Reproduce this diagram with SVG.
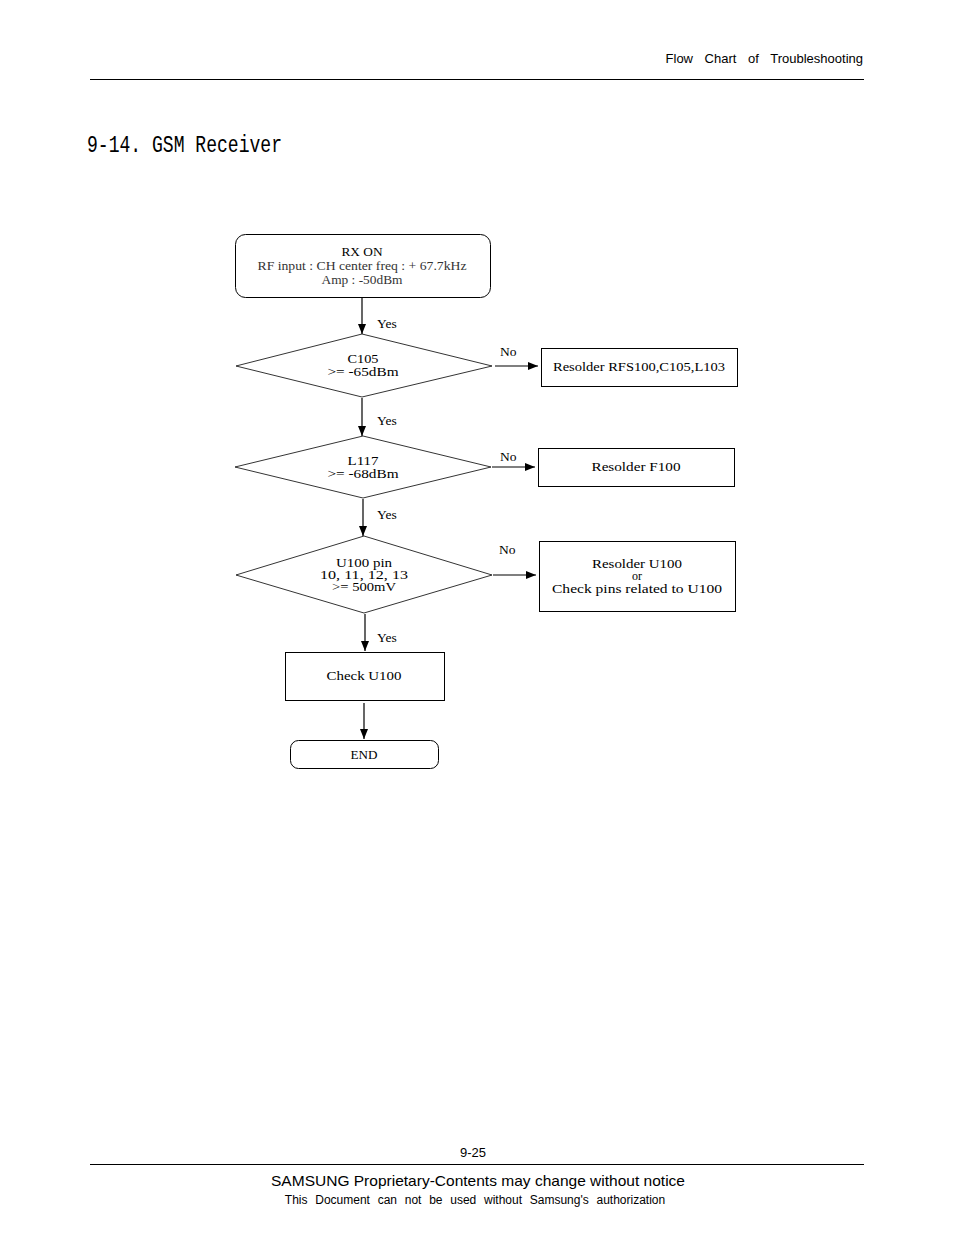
<svg xmlns="http://www.w3.org/2000/svg" width="954" height="1235" viewBox="0 0 954 1235">
<defs>
<marker id="ah" viewBox="0 0 10 8" refX="10" refY="4" markerWidth="10" markerHeight="8" markerUnits="userSpaceOnUse" orient="auto">
<path d="M0,0 L10,4 L0,8 Z" fill="#000"/>
</marker>
<style>
.hdr{font-family:"Liberation Sans",Arial,sans-serif;fill:#000}
.t{font-family:"Liberation Serif","Times New Roman",serif;font-size:13.5px;fill:#000;text-anchor:middle}
.t3{font-family:"Liberation Serif","Times New Roman",serif;font-size:12px;fill:#000;text-anchor:middle}
.lb{font-family:"Liberation Serif","Times New Roman",serif;font-size:13.5px;fill:#000}
.sm{font-family:"Liberation Serif","Times New Roman",serif;font-size:11.5px;fill:#333;text-anchor:middle}
.shape{fill:#fff;stroke:#000;stroke-width:1}
.dia{fill:#fff;stroke:#000;stroke-width:0.8}
.cn{stroke:#000;stroke-width:1.2;fill:none;marker-end:url(#ah)}
</style>
</defs>
<rect width="954" height="1235" fill="#fff"/>
<g id="header">
<text class="hdr" x="863" y="63" font-size="13" text-anchor="end" word-spacing="8">Flow Chart of Troubleshooting</text>
<line x1="90" y1="79.5" x2="864" y2="79.5" stroke="#000" stroke-width="1"/>
<text x="87" y="152" font-family="'Liberation Mono','DejaVu Sans Mono',monospace" font-size="23" textLength="195" lengthAdjust="spacingAndGlyphs">9-14. GSM Receiver</text>
</g>
<g id="connectors">
<line class="cn" x1="362" y1="298" x2="362" y2="334"/>
<line class="cn" x1="495" y1="366" x2="538" y2="366"/>
<line class="cn" x1="362" y1="398" x2="362" y2="436"/>
<line class="cn" x1="492" y1="467" x2="535" y2="467"/>
<line class="cn" x1="363" y1="499" x2="363" y2="536"/>
<line class="cn" x1="493" y1="575" x2="536" y2="575"/>
<line class="cn" x1="365" y1="614" x2="365" y2="651"/>
<line class="cn" x1="364" y1="703" x2="364" y2="739"/>
<text class="lb" x="377" y="328">Yes</text>
<text class="lb" x="500" y="356">No</text>
<text class="lb" x="377" y="425">Yes</text>
<text class="lb" x="500" y="461">No</text>
<text class="lb" x="377" y="519">Yes</text>
<text class="lb" x="499" y="554">No</text>
<text class="lb" x="377" y="642">Yes</text>
</g>
<g id="start">
<rect class="shape" x="235.5" y="234.5" width="255" height="63" rx="10"/>
<text class="t" x="362" y="256" textLength="41" lengthAdjust="spacingAndGlyphs">RX ON</text>
<text class="sm" x="362" y="270" textLength="209" lengthAdjust="spacingAndGlyphs">RF input : CH center freq : + 67.7kHz</text>
<text class="sm" x="362" y="284" textLength="81" lengthAdjust="spacingAndGlyphs">Amp : -50dBm</text>
</g>
<g id="d1">
<polygon class="dia" points="236,366 362,334 492,366 362,397"/>
<text class="t" x="363" y="363" textLength="31" lengthAdjust="spacingAndGlyphs">C105</text>
<text class="t" x="363" y="376" textLength="71" lengthAdjust="spacingAndGlyphs">&gt;= -65dBm</text>
</g>
<g id="r1">
<rect class="shape" x="541.5" y="348.5" width="196" height="38"/>
<text class="t" x="639" y="371" textLength="172" lengthAdjust="spacingAndGlyphs">Resolder RFS100,C105,L103</text>
</g>
<g id="d2">
<polygon class="dia" points="235,467 363,436 491,467 363,498"/>
<text class="t" x="363" y="465" textLength="31" lengthAdjust="spacingAndGlyphs">L117</text>
<text class="t" x="363" y="478" textLength="71" lengthAdjust="spacingAndGlyphs">&gt;= -68dBm</text>
</g>
<g id="r2">
<rect class="shape" x="538.5" y="448.5" width="196" height="38"/>
<text class="t" x="636" y="471" textLength="89" lengthAdjust="spacingAndGlyphs">Resolder F100</text>
</g>
<g id="d3">
<polygon class="dia" points="236,575 364,536 492,575 364,613"/>
<text class="t3" x="364" y="567" textLength="56" lengthAdjust="spacingAndGlyphs">U100 pin</text>
<text class="t3" x="364" y="579" textLength="88" lengthAdjust="spacingAndGlyphs">10, 11, 12, 13</text>
<text class="t3" x="364" y="591" textLength="64" lengthAdjust="spacingAndGlyphs">&gt;= 500mV</text>
</g>
<g id="r3">
<rect class="shape" x="539.5" y="541.5" width="196" height="70"/>
<text class="t3" x="637" y="568" textLength="90" lengthAdjust="spacingAndGlyphs">Resolder U100</text>
<text class="t3" x="637" y="580">or</text>
<text class="t3" x="637" y="593" textLength="170" lengthAdjust="spacingAndGlyphs">Check pins related to U100</text>
</g>
<g id="check">
<rect class="shape" x="285.5" y="652.5" width="159" height="48"/>
<text class="t" x="364" y="680" textLength="75" lengthAdjust="spacingAndGlyphs">Check U100</text>
</g>
<g id="end">
<rect class="shape" x="290.5" y="740.5" width="148" height="28" rx="8"/>
<text class="t" x="364" y="759" textLength="27" lengthAdjust="spacingAndGlyphs">END</text>
</g>
<g id="footer">
<text class="hdr" x="473" y="1157" font-size="13" text-anchor="middle">9-25</text>
<line x1="90" y1="1164.5" x2="864" y2="1164.5" stroke="#000" stroke-width="1"/>
<text class="hdr" x="478" y="1186" font-size="15" text-anchor="middle" textLength="414" lengthAdjust="spacingAndGlyphs">SAMSUNG Proprietary-Contents may change without notice</text>
<text class="hdr" x="475" y="1204" font-size="12" text-anchor="middle" word-spacing="4.4">This Document can not be used without Samsung's authorization</text>
</g>
</svg>
